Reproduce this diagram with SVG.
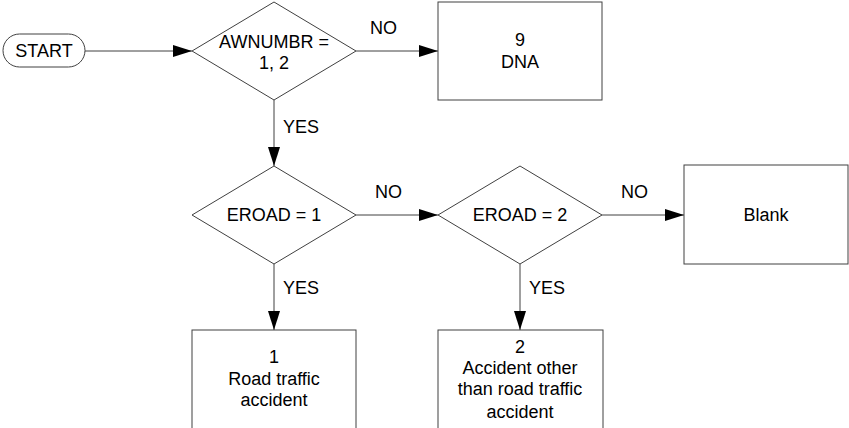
<svg xmlns="http://www.w3.org/2000/svg" width="849" height="428" viewBox="0 0 849 428">
<style>
.s{fill:#fff;stroke:#404040;stroke-width:1}
.c{fill:none;stroke:#404040;stroke-width:1}
text{font-family:"Liberation Sans",Arial,sans-serif;font-size:18px;fill:#000}
.m{text-anchor:middle}
</style>
<defs>
<marker id="a" markerUnits="userSpaceOnUse" markerWidth="19" markerHeight="12" refX="19" refY="6" orient="auto">
<path d="M0,0 L19,6 L0,12 Z" fill="#000"/>
</marker>
</defs>
<rect width="849" height="428" fill="#fff"/>
<g id="connectors">
<line class="c" x1="85" y1="51" x2="192" y2="51" marker-end="url(#a)"/>
<line class="c" x1="356" y1="51" x2="438" y2="51" marker-end="url(#a)"/>
<line class="c" x1="274" y1="100" x2="274" y2="166" marker-end="url(#a)"/>
<line class="c" x1="356" y1="215" x2="438" y2="215" marker-end="url(#a)"/>
<line class="c" x1="602" y1="215" x2="684" y2="215" marker-end="url(#a)"/>
<line class="c" x1="274" y1="264" x2="274" y2="330" marker-end="url(#a)"/>
<line class="c" x1="520" y1="264" x2="520" y2="330" marker-end="url(#a)"/>
<text x="370" y="34">NO</text>
<text x="283" y="133">YES</text>
<text x="375" y="198">NO</text>
<text x="621" y="198">NO</text>
<text x="283" y="294">YES</text>
<text x="529" y="294">YES</text>
</g>
<g id="start">
<rect class="s" x="3" y="34" width="82" height="33" rx="16.5"/>
<text class="m" x="44" y="57">START</text>
</g>
<g id="awnumbr">
<polygon class="s" points="192,51 274,2 356,51 274,100"/>
<text class="m" x="274" y="48">AWNUMBR =</text>
<text class="m" x="274" y="69">1, 2</text>
</g>
<g id="dna">
<rect class="s" x="438" y="2" width="164" height="98"/>
<text class="m" x="520" y="46">9</text>
<text class="m" x="520" y="68">DNA</text>
</g>
<g id="eroad1">
<polygon class="s" points="192,215 274,166 356,215 274,264"/>
<text class="m" x="274" y="221">EROAD = 1</text>
</g>
<g id="eroad2">
<polygon class="s" points="438,215 520,166 602,215 520,264"/>
<text class="m" x="520" y="221">EROAD = 2</text>
</g>
<g id="blank">
<rect class="s" x="684" y="165" width="164" height="99"/>
<text class="m" x="766" y="221">Blank</text>
</g>
<g id="road">
<rect class="s" x="192" y="330" width="164" height="110"/>
<text class="m" x="274" y="363">1</text>
<text class="m" x="274" y="385">Road traffic</text>
<text class="m" x="274" y="406">accident</text>
</g>
<g id="other">
<rect class="s" x="438" y="330" width="165" height="110"/>
<text class="m" x="520" y="353">2</text>
<text class="m" x="520" y="374">Accident other</text>
<text class="m" x="520" y="395">than road traffic</text>
<text class="m" x="520" y="418">accident</text>
</g>
</svg>
